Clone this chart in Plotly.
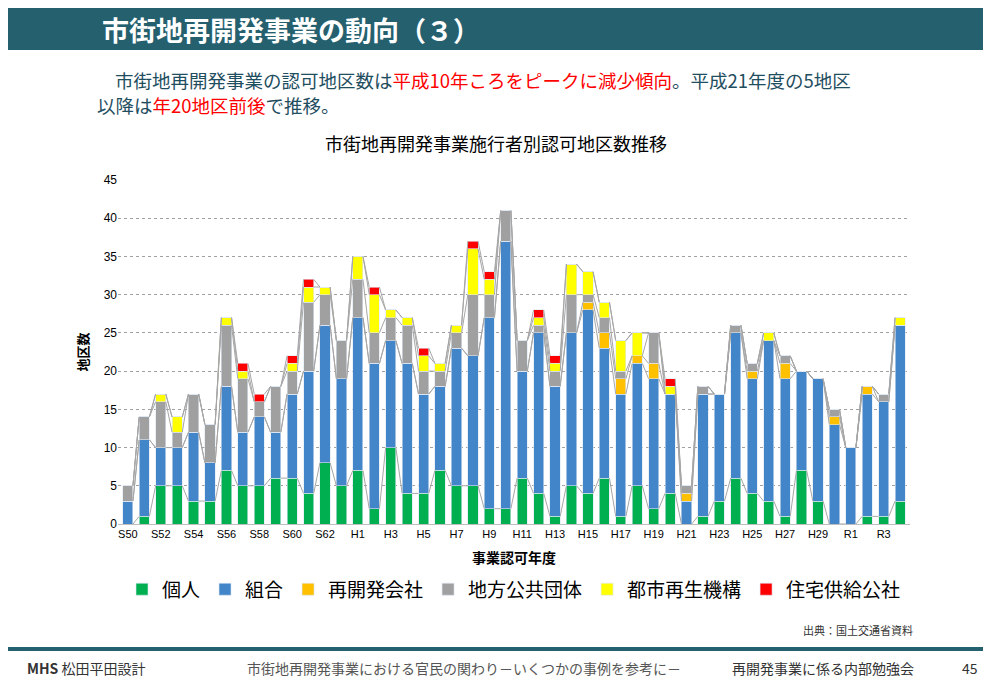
import plotly.graph_objects as go

years = ["S50","S51","S52","S53","S54","S55","S56","S57","S58","S59","S60","S61","S62","S63",
         "H1","H2","H3","H4","H5","H6","H7","H8","H9","H10","H11","H12","H13","H14","H15","H16",
         "H17","H18","H19","H20","H21","H22","H23","H24","H25","H26","H27","H28","H29","H30",
         "R1","R2","R3","R4"]
kojin   = [0,1,5,5,3,3,7,5,5,6,6,4,8,5, 7,2,10,4,4,7,5,5,2,2,6,4,1,5,4,6, 1,5,2,4,0,1,3,6,4,3,1,7,3,0, 0,1,1,3]
kumiai  = [3,10,5,5,9,5,11,7,9,6,11,16,18,14, 20,19,14,17,13,11,18,17,25,35,14,21,17,20,24,17, 16,16,17,13,3,16,14,19,15,21,18,13,16,13, 10,16,15,23]
kaisha  = [0,0,0,0,0,0,0,0,0,0,0,0,0,0, 0,0,0,0,0,0,0,0,0,0,0,0,0,0,1,2, 2,1,2,0,1,0,0,0,1,0,2,0,0,1, 0,1,0,0]
chiho   = [2,3,6,2,5,5,8,7,2,6,3,9,4,5, 5,4,3,5,3,2,2,8,3,4,4,1,2,5,1,2, 1,0,4,0,1,1,0,1,1,0,1,0,0,1, 0,0,1,0]
toshi   = [0,0,1,2,0,0,1,1,0,0,1,2,1,0, 3,5,1,1,2,1,1,6,2,0,0,1,1,4,3,2, 4,3,0,1,0,0,0,0,0,1,0,0,0,0, 0,0,0,1]
jutaku  = [0,0,0,0,0,0,0,1,1,0,1,1,0,0, 0,1,0,0,1,0,0,1,1,0,0,1,1,0,0,0, 0,0,0,1,0,0,0,0,0,0,0,0,0,0, 0,0,0,0]
tick_labels = ["S50","S52","S54","S56","S58","S60","S62","H1","H3","H5","H7","H9","H11","H13",
               "H15","H17","H19","H21","H23","H25","H27","H29","R1","R3"]

series = [("個人", kojin, "#00b050"), ("組合", kumiai, "#4285c8"), ("再開発会社", kaisha, "#ffc000"),
          ("地方公共団体", chiho, "#a0a0a0"), ("都市再生機構", toshi, "#ffff00"), ("住宅供給公社", jutaku, "#ff0000")]

FONT = "Noto Sans CJK JP"
x = list(range(len(years)))
W = 0.62
fig = go.Figure()

cum = [0]*len(years)
lx, ly = [], []
for name, vals, col in series:
    cum = [c+v for c, v in zip(cum, vals)]
    for i in range(len(years)-1):
        lx += [i+W/2, i+1-W/2, None]
        ly += [cum[i], cum[i+1], None]
fig.add_trace(go.Scatter(x=lx, y=ly, mode="lines", line=dict(color="#a6a6a6", width=1),
                         showlegend=False, hoverinfo="skip"))

for name, vals, col in series:
    fig.add_trace(go.Bar(x=x, y=vals, name=name, marker=dict(color=col, line=dict(color="#dde8f5", width=0.6)),
                         width=W))

tickvals = [years.index(t) for t in tick_labels]
fig.update_layout(
    barmode="stack", width=983, height=679, plot_bgcolor="white", paper_bgcolor="white",
    margin=dict(l=110, r=81, t=172, b=163),
    font=dict(family=FONT, color="#000"),
    xaxis=dict(range=[-0.6, len(years)-0.4], tickvals=tickvals, ticktext=tick_labels,
               tickfont=dict(size=11, family="Liberation Sans"), showline=True, linecolor="#bfbfbf",
               ticks="", showgrid=False),
    yaxis=dict(range=[0, 45], dtick=5, tickfont=dict(size=12, family="Liberation Sans"),
               gridcolor="#a0a0a0", griddash="dot", zeroline=False, showline=False,
               title=dict(text="<b>地区数</b>", font=dict(size=13), standoff=12)),
    legend=dict(orientation="h", x=0.5, xanchor="center", y=-0.19, yanchor="middle",
                font=dict(size=19), traceorder="normal", itemwidth=30),
    bargap=0.38,
)

def px(xp): return (xp-118)/792
def py(yp): return (524-yp)/344

fig.add_shape(type="rect", xref="paper", yref="paper", x0=px(0), x1=px(991), y0=py(50), y1=py(5),
              fillcolor="#25606f", line_width=0, layer="below")
fig.add_shape(type="line", xref="paper", yref="paper", x0=px(0), x1=px(991), y0=py(649), y1=py(649),
              line=dict(color="#25606f", width=4))

ann = [
    (100, 29, "<b>市街地再開発事業の動向（３）</b>", 27, "white", "left"),
    (113, 80, "市街地再開発事業の認可地区数は<span style='color:#ff0000'>平成10年ころをピークに減少傾向</span>。平成21年度の5地区", 18.5, "#1f4e5f", "left"),
    (95, 105, "以降は<span style='color:#ff0000'>年20地区前後</span>で推移。", 18.5, "#1f4e5f", "left"),
    (496, 143, "市街地再開発事業施行者別認可地区数推移", 18, "#000", "center"),
    (514, 557, "<b>事業認可年度</b>", 14, "#000", "center"),
    (915, 630, "出典：国土交通省資料", 11, "#333", "right"),
    (25, 668, "<b>MHS</b> 松田平田設計", 14, "#333", "left"),
    (245, 668, "市街地再開発事業における官民の関わり－いくつかの事例を参考に－", 14, "#555", "left"),
    (730, 668, "再開発事業に係る内部勉強会", 14, "#333", "left"),
    (960, 668, "45", 14, "#333", "left"),
]
for xp, yp, t, s, c, al in ann:
    fig.add_annotation(xref="paper", yref="paper", x=px(xp), y=py(yp), text=t, showarrow=False,
                       xanchor=al, yanchor="middle", font=dict(size=s, color=c, family=FONT))

fig.write_html("out.html")
